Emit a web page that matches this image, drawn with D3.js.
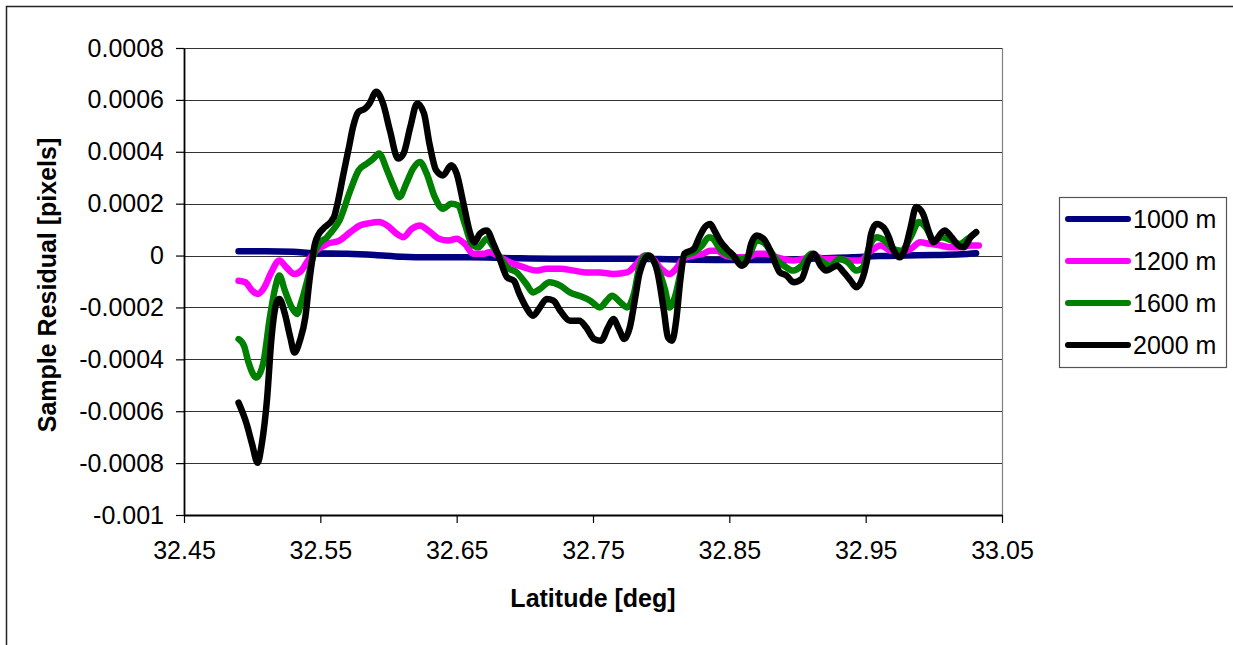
<!DOCTYPE html>
<html>
<head>
<meta charset="utf-8">
<script src="https://cdn.jsdelivr.net/npm/d3@7"></script>
<style>
  html, body { margin: 0; padding: 0; background: #fff; }
  svg { display: block; font-family: Arial, "Liberation Sans", sans-serif; }
</style>
</head>
<body>
<svg id="chart" width="1233" height="645"></svg>
<script>
// ---------- DATA ----------
const seriesNames = ["1000 m", "1200 m", "1600 m", "2000 m"];
const xTicks = [32.45, 32.55, 32.65, 32.75, 32.85, 32.95, 33.05];
const xTickLabels = ["32.45", "32.55", "32.65", "32.75", "32.85", "32.95", "33.05"];
const yTicks = [-0.001, -0.0008, -0.0006, -0.0004, -0.0002, 0, 0.0002, 0.0004, 0.0006, 0.0008];
const yTickLabels = ["-0.001", "-0.0008", "-0.0006", "-0.0004", "-0.0002", "0", "0.0002", "0.0004", "0.0006", "0.0008"];

// 1000 m : [latitude, residual]
const s1000 = [
  [32.490,0.17e-4],[32.510,0.17e-4],[32.530,0.15e-4],[32.545,0.09e-4],[32.570,0.07e-4],
  [32.590,0.02e-4],[32.610,-0.05e-4],[32.630,-0.07e-4],[32.660,-0.07e-4],[32.690,-0.10e-4],
  [32.720,-0.12e-4],[32.750,-0.12e-4],[32.780,-0.12e-4],[32.810,-0.15e-4],[32.840,-0.17e-4],
  [32.870,-0.17e-4],[32.890,-0.17e-4],[32.910,-0.12e-4],[32.940,-0.07e-4],[32.960,-0.02e-4],
  [32.980,0],[33.000,0.02e-4],[33.020,0.05e-4],[33.031,0.09e-4]
];
// 1200 m
const s1200 = [
  [32.490,-0.97e-4],[32.495,-1.03e-4],[32.500,-1.35e-4],[32.504,-1.48e-4],[32.509,-1.22e-4],
  [32.514,-0.65e-4],[32.520,-0.19e-4],[32.525,-0.45e-4],[32.531,-0.71e-4],[32.536,-0.58e-4],
  [32.541,-0.19e-4],[32.547,0.19e-4],[32.555,0.45e-4],[32.564,0.58e-4],[32.572,0.90e-4],
  [32.579,1.16e-4],[32.586,1.25e-4],[32.593,1.29e-4],[32.599,1.16e-4],[32.606,0.84e-4],
  [32.611,0.71e-4],[32.617,1.03e-4],[32.623,1.16e-4],[32.629,0.97e-4],[32.637,0.65e-4],
  [32.644,0.58e-4],[32.650,0.65e-4],[32.656,0.45e-4],[32.662,0.07e-4],[32.670,0.07e-4],
  [32.674,0.13e-4],[32.682,-0.07e-4],[32.689,-0.26e-4],[32.699,-0.45e-4],[32.709,-0.58e-4],
  [32.716,-0.51e-4],[32.726,-0.51e-4],[32.736,-0.58e-4],[32.745,-0.65e-4],[32.755,-0.65e-4],
  [32.765,-0.71e-4],[32.775,-0.65e-4],[32.782,-0.32e-4],[32.788,0],[32.794,-0.13e-4],
  [32.800,-0.51e-4],[32.806,-0.71e-4],[32.811,-0.51e-4],[32.816,-0.13e-4],[32.824,0],
  [32.831,0.07e-4],[32.836,0.19e-4],[32.841,0.19e-4],[32.847,0],[32.855,-0.07e-4],
  [32.863,-0.07e-4],[32.870,0.07e-4],[32.877,0.07e-4],[32.885,-0.07e-4],[32.897,-0.19e-4],
  [32.904,-0.13e-4],[32.912,0],[32.919,-0.13e-4],[32.929,-0.13e-4],[32.939,-0.19e-4],
  [32.946,-0.19e-4],[32.953,0.13e-4],[32.961,0.39e-4],[32.968,0.19e-4],[32.975,0.13e-4],
  [32.983,0.26e-4],[32.990,0.51e-4],[32.997,0.45e-4],[33.005,0.39e-4],[33.012,0.32e-4],
  [33.019,0.32e-4],[33.027,0.39e-4],[33.033,0.39e-4]
];
// 1600 m
const s1600 = [
  [32.490,-3.22e-4],[32.494,-3.48e-4],[32.497,-4.06e-4],[32.503,-4.70e-4],[32.508,-4.18e-4],
  [32.513,-2.38e-4],[32.517,-1.22e-4],[32.520,-0.77e-4],[32.524,-1.35e-4],[32.529,-2.00e-4],
  [32.533,-2.25e-4],[32.536,-1.80e-4],[32.541,-0.84e-4],[32.545,0],[32.549,0.45e-4],
  [32.555,0.71e-4],[32.557,0.84e-4],[32.564,1.35e-4],[32.572,2.51e-4],[32.578,3.28e-4],
  [32.584,3.54e-4],[32.589,3.74e-4],[32.593,3.93e-4],[32.599,3.28e-4],[32.604,2.64e-4],
  [32.608,2.25e-4],[32.613,2.77e-4],[32.618,3.35e-4],[32.623,3.61e-4],[32.628,3.16e-4],
  [32.634,2.25e-4],[32.640,1.80e-4],[32.646,2.00e-4],[32.651,1.93e-4],[32.656,1.22e-4],
  [32.661,0.45e-4],[32.666,0.32e-4],[32.672,0.65e-4],[32.677,0.32e-4],[32.682,-0.07e-4],
  [32.687,-0.45e-4],[32.694,-0.65e-4],[32.701,-1.09e-4],[32.706,-1.42e-4],[32.711,-1.29e-4],
  [32.718,-1.03e-4],[32.726,-1.16e-4],[32.733,-1.42e-4],[32.740,-1.55e-4],[32.748,-1.74e-4],
  [32.755,-2.00e-4],[32.760,-1.74e-4],[32.764,-1.55e-4],[32.770,-1.80e-4],[32.775,-2.00e-4],
  [32.780,-1.48e-4],[32.784,-0.45e-4],[32.789,0],[32.797,-0.45e-4],[32.803,-1.35e-4],
  [32.806,-2.00e-4],[32.810,-1.61e-4],[32.814,-0.71e-4],[32.817,0],[32.824,0.13e-4],
  [32.830,0.39e-4],[32.835,0.71e-4],[32.838,0.65e-4],[32.843,0.26e-4],[32.850,0],
  [32.860,-0.13e-4],[32.865,0.07e-4],[32.870,0.58e-4],[32.875,0.51e-4],[32.880,0.19e-4],
  [32.885,-0.19e-4],[32.890,-0.39e-4],[32.897,-0.58e-4],[32.903,-0.39e-4],[32.910,0.07e-4],
  [32.917,-0.19e-4],[32.924,-0.39e-4],[32.931,-0.13e-4],[32.937,-0.26e-4],[32.943,-0.58e-4],
  [32.948,-0.45e-4],[32.953,0.39e-4],[32.958,0.71e-4],[32.964,0.58e-4],[32.970,0.26e-4],
  [32.976,0.19e-4],[32.983,0.71e-4],[32.989,1.29e-4],[32.994,1.09e-4],[33.000,0.58e-4],
  [33.006,0.71e-4],[33.013,0.58e-4],[33.019,0.45e-4],[33.025,0.65e-4],[33.031,0.90e-4]
];
// 2000 m
const s2000 = [
  [32.490,-5.67e-4],[32.496,-6.50e-4],[32.500,-7.28e-4],[32.504,-7.99e-4],[32.507,-7.28e-4],
  [32.511,-5.48e-4],[32.514,-3.28e-4],[32.518,-1.80e-4],[32.520,-1.67e-4],[32.524,-2.25e-4],
  [32.528,-3.16e-4],[32.531,-3.74e-4],[32.535,-3.28e-4],[32.539,-2.38e-4],[32.542,-0.97e-4],
  [32.546,0.45e-4],[32.549,0.84e-4],[32.552,1.03e-4],[32.560,1.48e-4],[32.562,1.87e-4],
  [32.567,3.16e-4],[32.571,4.18e-4],[32.574,4.96e-4],[32.578,5.54e-4],[32.583,5.67e-4],
  [32.586,5.86e-4],[32.591,6.31e-4],[32.596,5.86e-4],[32.601,4.83e-4],[32.607,3.74e-4],
  [32.611,3.93e-4],[32.616,4.96e-4],[32.621,5.86e-4],[32.626,5.48e-4],[32.630,4.32e-4],
  [32.635,3.28e-4],[32.640,3.09e-4],[32.646,3.48e-4],[32.650,3.16e-4],[32.655,2.00e-4],
  [32.660,0.84e-4],[32.663,0.51e-4],[32.667,0.84e-4],[32.672,0.97e-4],[32.677,0.45e-4],
  [32.682,-0.19e-4],[32.687,-0.84e-4],[32.692,-0.97e-4],[32.696,-1.48e-4],[32.701,-2.00e-4],
  [32.706,-2.32e-4],[32.711,-2.00e-4],[32.716,-1.67e-4],[32.721,-1.74e-4],[32.726,-2.13e-4],
  [32.733,-2.51e-4],[32.740,-2.51e-4],[32.745,-2.77e-4],[32.751,-3.22e-4],[32.756,-3.28e-4],
  [32.761,-2.77e-4],[32.765,-2.45e-4],[32.769,-2.83e-4],[32.773,-3.22e-4],[32.777,-2.77e-4],
  [32.781,-1.61e-4],[32.784,-0.71e-4],[32.791,0],[32.797,-0.58e-4],[32.802,-2.13e-4],
  [32.805,-3.16e-4],[32.808,-3.28e-4],[32.811,-2.51e-4],[32.814,-0.97e-4],[32.817,0.07e-4],
  [32.824,0.26e-4],[32.828,0.71e-4],[32.832,1.09e-4],[32.836,1.22e-4],[32.839,0.97e-4],
  [32.843,0.58e-4],[32.848,0.26e-4],[32.853,0],[32.859,-0.39e-4],[32.863,-0.19e-4],
  [32.866,0.45e-4],[32.870,0.77e-4],[32.875,0.65e-4],[32.880,0.19e-4],[32.885,-0.45e-4],
  [32.887,-0.65e-4],[32.892,-0.77e-4],[32.897,-1.03e-4],[32.903,-0.90e-4],[32.908,-0.19e-4],
  [32.912,0.07e-4],[32.917,-0.39e-4],[32.921,-0.58e-4],[32.929,-0.39e-4],[32.934,-0.65e-4],
  [32.939,-0.97e-4],[32.943,-1.22e-4],[32.947,-0.97e-4],[32.951,-0.19e-4],[32.954,0.84e-4],
  [32.958,1.22e-4],[32.963,1.09e-4],[32.967,0.71e-4],[32.970,0.26e-4],[32.975,-0.07e-4],
  [32.979,0.26e-4],[32.983,1.09e-4],[32.987,1.87e-4],[32.992,1.61e-4],[32.996,0.97e-4],
  [33.000,0.51e-4],[33.005,0.84e-4],[33.008,0.97e-4],[33.013,0.71e-4],[33.018,0.39e-4],
  [33.022,0.32e-4],[33.027,0.71e-4],[33.031,0.90e-4]
];
const seriesData = [s1000, s1200, s1600, s2000];
const seriesColors = ["#000080", "#ff00ff", "#008000", "#000000"];

// ---------- LAYOUT ----------
const svg = d3.select("#chart");
const L = 184, R = 1002, T = 48, B = 515;

svg.append("rect").attr("x", 6.5).attr("y", 6.5).attr("width", 1240).attr("height", 660)
  .attr("fill", "#fff").attr("stroke", "#222").attr("stroke-width", 1.5);

const x = d3.scaleLinear().domain([32.45, 33.05]).range([L, R]);
const y = d3.scaleLinear().domain([-0.001, 0.0008]).range([B, T]);

// gridlines
svg.append("g").selectAll("line").data(yTicks.filter(v => v > -0.001)).join("line")
  .attr("x1", L).attr("x2", R)
  .attr("y1", d => Math.round(y(d)) + 0.5).attr("y2", d => Math.round(y(d)) + 0.5)
  .attr("stroke", "#333").attr("stroke-width", 1.2);

// right border of plot area
svg.append("line").attr("x1", R + 0.5).attr("x2", R + 0.5).attr("y1", T).attr("y2", B)
  .attr("stroke", "#808080").attr("stroke-width", 1.2);

// axes
const fmtX = d => xTickLabels[xTicks.indexOf(d)];
const fmtY = d => yTickLabels[yTicks.indexOf(d)];

const xAxis = svg.append("g").attr("transform", `translate(0,${B})`)
  .call(d3.axisBottom(x).tickValues(xTicks).tickFormat(fmtX).tickSize(8).tickPadding(18).tickSizeOuter(0));
const yAxis = svg.append("g").attr("transform", `translate(${L},0)`)
  .call(d3.axisLeft(y).tickValues(yTicks).tickFormat(fmtY).tickSize(8).tickPadding(12).tickSizeOuter(0));

[xAxis, yAxis].forEach(g => {
  g.select(".domain").attr("stroke", "#000").attr("stroke-width", 1.8);
  g.selectAll(".tick line").attr("stroke", "#000").attr("stroke-width", 1.2);
  g.selectAll(".tick text").attr("fill", "#000").style("font-size", "25px")
    .style("font-family", "Arial, 'Liberation Sans', sans-serif");
});

// series
const line = d3.line().x(d => x(d[0])).y(d => y(d[1])).curve(d3.curveMonotoneX);
svg.append("g").selectAll("path").data(seriesData).join("path")
  .attr("d", line)
  .attr("fill", "none")
  .attr("stroke", (d, i) => seriesColors[i])
  .attr("stroke-width", 6.5)
  .attr("stroke-linejoin", "round")
  .attr("stroke-linecap", "round");

// axis titles
svg.append("text").attr("x", (L + R) / 2).attr("y", 607).attr("text-anchor", "middle")
  .style("font-size", "25px").style("font-weight", "bold").text("Latitude [deg]");
svg.append("text").attr("transform", "translate(56,285) rotate(-90)").attr("text-anchor", "middle")
  .style("font-size", "25px").style("font-weight", "bold").text("Sample Residual [pixels]");

// legend
const lg = svg.append("g");
lg.append("rect").attr("x", 1059.5).attr("y", 197.5).attr("width", 167).attr("height", 170)
  .attr("fill", "#fff").attr("stroke", "#555").attr("stroke-width", 1.2);
const rowsY = [219, 261, 303, 345];
const items = lg.selectAll("g.item").data(seriesNames).join("g").attr("class", "item")
  .attr("transform", (d, i) => `translate(0,${rowsY[i]})`);
items.append("line").attr("x1", 1068).attr("x2", 1128).attr("y1", 0).attr("y2", 0)
  .attr("stroke", (d, i) => seriesColors[i]).attr("stroke-width", 6).attr("stroke-linecap", "round");
items.append("text").attr("x", 1133).attr("y", 0).attr("dy", "0.35em")
  .style("font-size", "25px").text(d => d);
</script>
</body>
</html>
